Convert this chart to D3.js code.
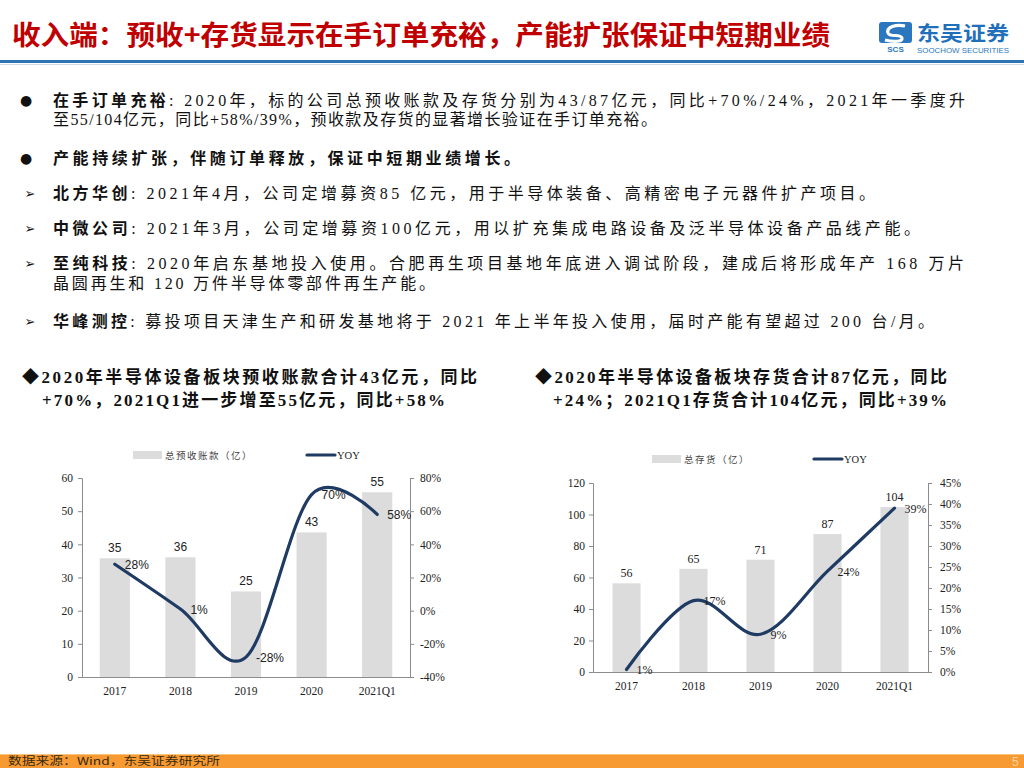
<!DOCTYPE html>
<html>
<head>
<meta charset="utf-8">
<script src="https://cdn.jsdelivr.net/npm/d3@7"></script>
<style>
body { margin: 0; background: #fff; }
text { font-family: "Liberation Serif", "Noto Sans CJK SC", serif; }
</style>
</head>
<body>
<svg id="page" width="1024" height="768"></svg>
<script>
// chart data
var periods = ["2017", "2018", "2019", "2020", "2021Q1"];

var advanceValues = [35.8, 36.1, 25.8, 43.6, 55.7];   // 总预收账款（亿）
var advanceLabels = ["35", "36", "25", "43", "55"];
var advanceYoy = [28, 1, -28, 70, 58];
var advanceYoyLabels = ["28%", "1%", "-28%", "70%", "58%"];
var advanceLeftTicks = [0, 10, 20, 30, 40, 50, 60];
var advanceRightTicks = [-40, -20, 0, 20, 40, 60, 80];

var inventoryValues = [56.3, 65.5, 71.3, 87.6, 104.7]; // 总存货（亿）
var inventoryLabels = ["56", "65", "71", "87", "104"];
var inventoryYoy = [0.6, 17, 9, 24, 39];
var inventoryYoyLabels = ["1%", "17%", "9%", "24%", "39%"];
var inventoryLeftTicks = [0, 20, 40, 60, 80, 100, 120];
var inventoryRightTicks = [0, 5, 10, 15, 20, 25, 30, 35, 40, 45];

var svg = d3.select("#page");

// ---------- header ----------
svg.append("text")
  .attr("x", 12).attr("y", 45)
  .attr("font-size", 27).attr("font-weight", "bold")
  .attr("fill", "#c00000")
  .attr("textLength", 818).attr("lengthAdjust", "spacingAndGlyphs")
  .style("font-family", "\"Noto Sans CJK SC\", sans-serif")
  .text("收入端：预收+存货显示在手订单充裕，产能扩张保证中短期业绩");

svg.append("rect").attr("x", 0).attr("y", 60).attr("width", 1024).attr("height", 3).attr("fill", "#2e74b5");
svg.append("rect").attr("x", 0).attr("y", 64).attr("width", 1024).attr("height", 1).attr("fill", "#d0d8e4");

// logo
var logo = svg.append("g");
logo.append("rect").attr("x", 879).attr("y", 22).attr("width", 33).attr("height", 21).attr("rx", 3).attr("fill", "#2a77c0");
logo.append("path")
  .attr("d", "M905,26 C896,24 886,27 888,33 C890,38 900,33 902,38 C903,42 893,42 885,40")
  .attr("fill", "none").attr("stroke", "#fff").attr("stroke-width", 3.2);
logo.append("text").attr("x", 895.5).attr("y", 52).attr("text-anchor", "middle")
  .attr("font-size", 8).attr("font-weight", "bold").attr("fill", "#2a77c0")
  .style("font-family", "\"Liberation Sans\", sans-serif").text("SCS");
logo.append("text").attr("x", 917).attr("y", 41)
  .attr("font-size", 20).attr("font-weight", "bold").attr("fill", "#1f6fba")
  .attr("textLength", 92).attr("lengthAdjust", "spacingAndGlyphs")
  .style("font-family", "\"Noto Sans CJK SC\", sans-serif").text("东吴证券");
logo.append("text").attr("x", 917).attr("y", 53)
  .attr("font-size", 8).attr("fill", "#2a77c0")
  .attr("textLength", 92).attr("lengthAdjust", "spacingAndGlyphs")
  .style("font-family", "\"Liberation Sans\", sans-serif").text("SOOCHOW SECURITIES");

// ---------- bullet text ----------
var lines = [
  {mark: "●", y: 100, end: 965, bold: "在手订单充裕", rest: ": 2020年，标的公司总预收账款及存货分别为43/87亿元，同比+70%/24%，2021年一季度升"},
  {mark: "", y: 119, end: 657, bold: "", rest: "至55/104亿元，同比+58%/39%，预收款及存货的显著增长验证在手订单充裕。"},
  {mark: "●", y: 158, end: 520, bold: "产能持续扩张，伴随订单释放，保证中短期业绩增长。", rest: ""},
  {mark: "➢", y: 193, end: 875, bold: "北方华创", rest: ": 2021年4月，公司定增募资85 亿元，用于半导体装备、高精密电子元器件扩产项目。"},
  {mark: "➢", y: 228, end: 920, bold: "中微公司", rest: ": 2021年3月，公司定增募资100亿元，用以扩充集成电路设备及泛半导体设备产品线产能。"},
  {mark: "➢", y: 263, end: 964, bold: "至纯科技", rest: ": 2020年启东基地投入使用。合肥再生项目基地年底进入调试阶段，建成后将形成年产 168 万片"},
  {mark: "", y: 283, end: 435, bold: "", rest: "晶圆再生和 120 万件半导体零部件再生产能。"},
  {mark: "➢", y: 321, end: 934, bold: "华峰测控", rest: ": 募投项目天津生产和研发基地将于 2021 年上半年投入使用，届时产能有望超过 200 台/月。"}
];

lines.forEach(function(l) {
  if (l.mark) {
    svg.append("text").attr("x", l.mark === "●" ? 26 : 30).attr("y", l.y + 5)
      .attr("text-anchor", "middle")
      .attr("font-size", l.mark === "●" ? 14 : 13)
      .style("font-family", "\"DejaVu Sans\", sans-serif")
      .attr("fill", "#111").text(l.mark);
  }
  var t = svg.append("text").attr("x", 53).attr("y", l.y + 6)
    .attr("font-size", 16).attr("fill", "#111")
    .attr("textLength", l.end - 53).attr("lengthAdjust", "spacing");
  if (l.bold) t.append("tspan").attr("font-weight", "bold").text(l.bold);
  if (l.rest) t.append("tspan").text(l.rest);
});

// ---------- chart subtitles ----------
var subs = [
  {x: 22, y: 377, end: 477, t: "◆2020年半导体设备板块预收账款合计43亿元，同比"},
  {x: 42, y: 400, end: 445, t: "+70%，2021Q1进一步增至55亿元，同比+58%"},
  {x: 535, y: 377, end: 947, t: "◆2020年半导体设备板块存货合计87亿元，同比"},
  {x: 553, y: 400, end: 947, t: "+24%；2021Q1存货合计104亿元，同比+39%"}
];
subs.forEach(function(s) {
  svg.append("text").attr("x", s.x).attr("y", s.y + 6)
    .attr("font-size", 17).attr("font-weight", "bold").attr("fill", "#111")
    .attr("textLength", s.end - s.x).attr("lengthAdjust", "spacing")
    .text(s.t);
});

// ---------- combo charts ----------
function drawChart(o) {
  var g = svg.append("g");
  var x = d3.scaleBand().domain(periods).range([o.x0, o.x1])
    .paddingInner(o.pad).paddingOuter(o.pad / 2);
  var yL = d3.scaleLinear().domain([o.leftTicks[0], o.leftTicks[o.leftTicks.length - 1]])
    .range([o.yBottom, o.yTop]);
  var yR = d3.scaleLinear().domain([o.rightTicks[0], o.rightTicks[o.rightTicks.length - 1]])
    .range([o.yBottom, o.yTop]);
  var cx = function(d, i) { return x(periods[i]) + x.bandwidth() / 2; };

  // bars
  g.selectAll(".bar").data(o.values).enter().append("rect")
    .attr("x", function(d, i) { return x(periods[i]); })
    .attr("y", function(d) { return yL(d); })
    .attr("width", x.bandwidth())
    .attr("height", function(d) { return o.yBottom - yL(d); })
    .attr("fill", "#dcdcdc");

  g.selectAll(".barlab").data(o.values).enter().append("text")
    .attr("x", cx)
    .attr("y", function(d) { return yL(d) - 6; })
    .attr("text-anchor", "middle")
    .attr("font-size", 12).attr("fill", "#222")
    .style("font-family", o.labelFont)
    .text(function(d, i) { return o.labels[i]; });

  // axes
  var axL = g.append("g").attr("transform", "translate(" + o.x0 + ",0)")
    .call(d3.axisLeft(yL).tickValues(o.leftTicks).tickSize(4).tickPadding(o.padL));
  var axR = g.append("g").attr("transform", "translate(" + o.x1 + ",0)")
    .call(d3.axisRight(yR).tickValues(o.rightTicks).tickSize(4).tickPadding(o.padR)
      .tickFormat(function(d) { return d + "%"; }));
  var axB = g.append("g").attr("transform", "translate(0," + o.yBottom + ")")
    .call(d3.axisBottom(x).tickSize(0).tickPadding(10).tickSizeOuter(0));
  [axL, axR, axB].forEach(function(a) {
    a.selectAll("path,line").attr("stroke", "#8c8c8c");
    a.selectAll("text").attr("font-size", 11.5).attr("fill", "#222")
      .style("font-family", "\"Liberation Serif\", serif");
  });

  // yoy line
  var line = d3.line()
    .x(cx)
    .y(function(d) { return yR(d); })
    .curve(d3.curveCatmullRom.alpha(0));
  g.append("path").datum(o.yoy)
    .attr("d", line)
    .attr("fill", "none").attr("stroke", "#1f3b63").attr("stroke-width", 3.2)
    .attr("stroke-linecap", "round");

  g.selectAll(".yoylab").data(o.yoy).enter().append("text")
    .attr("x", function(d, i) { return cx(d, i) + 10; })
    .attr("y", function(d) { return yR(d) + 4.5; })
    .attr("font-size", 12).attr("fill", "#222")
    .style("font-family", o.labelFont)
    .text(function(d, i) { return o.yoyLabels[i]; });

  // legend
  g.append("rect").attr("x", o.legBar).attr("y", o.legY - 4).attr("width", 29).attr("height", 8)
    .attr("fill", "#dcdcdc");
  g.append("text").attr("x", o.legBar + 32).attr("y", o.legY + 3.5)
    .attr("font-size", 9.5).attr("fill", "#444").attr("letter-spacing", 1.5)
    .style("font-family", "\"Noto Sans CJK SC\", sans-serif")
    .text(o.legName);
  g.append("line").attr("x1", o.legLine).attr("x2", o.legLine + 28)
    .attr("y1", o.legY).attr("y2", o.legY)
    .attr("stroke", "#1f3b63").attr("stroke-width", 3.2).attr("stroke-linecap", "round");
  g.append("text").attr("x", o.legLine + 30).attr("y", o.legY + 4)
    .attr("font-size", 10.5).attr("fill", "#222")
    .text("YOY");
}

drawChart({
  x0: 82, x1: 410, yTop: 478, yBottom: 677, pad: 0.54,
  values: advanceValues, labels: advanceLabels,
  yoy: advanceYoy, yoyLabels: advanceYoyLabels,
  leftTicks: advanceLeftTicks, rightTicks: advanceRightTicks,
  padL: 5, padR: 6,
  labelFont: "\"Liberation Sans\", sans-serif",
  legY: 455, legBar: 133, legLine: 307, legName: "总预收账款（亿）"
});

drawChart({
  x0: 593, x1: 928, yTop: 483, yBottom: 672, pad: 0.58,
  values: inventoryValues, labels: inventoryLabels,
  yoy: inventoryYoy, yoyLabels: inventoryYoyLabels,
  leftTicks: inventoryLeftTicks, rightTicks: inventoryRightTicks,
  padL: 4, padR: 8,
  labelFont: "\"Liberation Serif\", serif",
  legY: 459, legBar: 652, legLine: 814, legName: "总存货（亿）"
});

// ---------- footer ----------
svg.append("rect").attr("x", 0).attr("y", 754).attr("width", 1024).attr("height", 14).attr("fill", "#f79a32");
svg.append("rect").attr("x", 0).attr("y", 754).attr("width", 1024).attr("height", 1).attr("fill", "#fbc27a");
svg.append("text").attr("x", 8).attr("y", 765)
  .attr("font-size", 11).attr("fill", "#3a2a10")
  .attr("textLength", 212).attr("lengthAdjust", "spacingAndGlyphs")
  .style("font-family", "\"Noto Sans CJK SC\", sans-serif")
  .text("数据来源：Wind，东吴证券研究所");
svg.append("text").attr("x", 1012).attr("y", 766)
  .attr("font-size", 12).attr("fill", "#fbd3a0")
  .style("font-family", "\"Liberation Sans\", sans-serif")
  .text("5");
</script>
</body>
</html>
